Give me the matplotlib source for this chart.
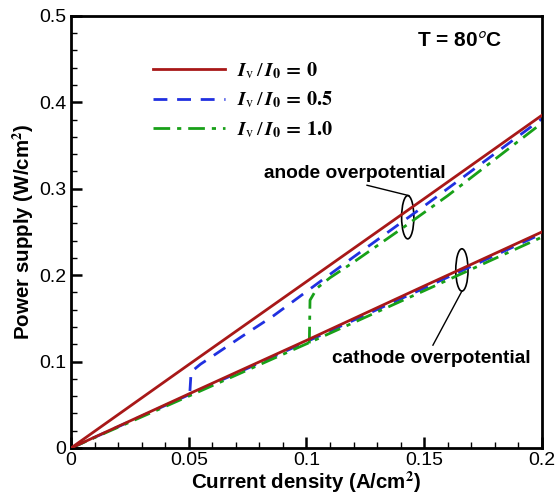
import matplotlib
matplotlib.use('Agg')
import matplotlib.pyplot as plt
from matplotlib.patches import Ellipse
import numpy as np

# Data
# I_v/I_0 = 0 (red)
x_red_an = [0.0, 0.05, 0.1, 0.15, 0.2]
y_red_an = [0.0, 0.0965, 0.1925, 0.2885, 0.385]
x_red_ca = [0.0, 0.05, 0.1, 0.15, 0.2]
y_red_ca = [0.0, 0.0625, 0.1245, 0.1875, 0.250]

# I_v/I_0 = 0.5 (blue)
x_blue_an = [0.0505, 0.051, 0.055, 0.06, 0.072, 0.086, 0.1, 0.12, 0.15, 0.2]
y_blue_an = [0.066, 0.088, 0.097, 0.106, 0.128, 0.153, 0.181, 0.221, 0.280, 0.381]
x_blue_ca = [0.0, 0.05, 0.1, 0.15, 0.2]
y_blue_ca = [0.0, 0.0615, 0.123, 0.185, 0.248]

# I_v/I_0 = 1.0 (green)
x_green_an = [0.1012, 0.1015, 0.1045, 0.11, 0.12, 0.14, 0.16, 0.18, 0.2]
y_green_an = [0.121, 0.171, 0.185, 0.197, 0.215, 0.253, 0.292, 0.334, 0.376]
x_green_ca = [0.0, 0.05, 0.1, 0.15, 0.2]
y_green_ca = [0.0, 0.060, 0.1205, 0.182, 0.244]

legend_labels = [r'$\mathbfit{I}_{\mathrm{v}}\,/\,\mathbfit{I}_{\mathbf{0}}\, \mathbf{=\,0}$',
                 r'$\mathbfit{I}_{\mathrm{v}}\,/\,\mathbfit{I}_{\mathbf{0}}\, \mathbf{=\,0.5}$',
                 r'$\mathbfit{I}_{\mathrm{v}}\,/\,\mathbfit{I}_{\mathbf{0}}\, \mathbf{=\,1.0}$']

plt.rcParams['font.family'] = 'Liberation Sans'
plt.rcParams['mathtext.fontset'] = 'stix'

red = '#a81818'
blue = '#2030e0'
green = '#18a018'

fig = plt.figure(figsize=(5.57, 4.97), dpi=100)
ax = fig.add_axes([0.1275, 0.0986, 0.8455, 0.8695])

l1, = ax.plot(x_red_an, y_red_an, '-', color=red, lw=2, zorder=3)
ax.plot(x_red_ca, y_red_ca, '-', color=red, lw=2, zorder=3)
l2, = ax.plot(x_blue_an, y_blue_an, '--', color=blue, lw=2, dashes=(5, 3.5))
ax.plot(x_blue_ca, y_blue_ca, '--', color=blue, lw=2, dashes=(5, 3.5))
l3, = ax.plot(x_green_an, y_green_an, '-.', color=green, lw=2, dashes=(6, 2.5, 1.5, 2.5))
ax.plot(x_green_ca, y_green_ca, '-.', color=green, lw=2, dashes=(6, 2.5, 1.5, 2.5))

leg = ax.legend([l1, l2, l3], legend_labels, loc='upper left',
                bbox_to_anchor=(0.135, 0.94), frameon=False, fontsize=14.5,
                handlelength=3.6, handletextpad=0.6, labelspacing=0.45)

# Ellipse markers and leader lines
ax.add_patch(Ellipse((0.143, 0.267), 0.0052, 0.05, fill=False, lw=1.2, color='k'))
ax.plot([0.1257, 0.1435], [0.304, 0.292], color='k', lw=1)
ax.text(0.1206, 0.318, 'anode overpotential', ha='center', va='center',
        fontsize=13.8, fontweight='bold')

ax.add_patch(Ellipse((0.166, 0.206), 0.0052, 0.049, fill=False, lw=1.2, color='k'))
ax.plot([0.166, 0.1537], [0.1815, 0.119], color='k', lw=1)
ax.text(0.153, 0.104, 'cathode overpotential', ha='center', va='center',
        fontsize=13.8, fontweight='bold')

ax.text(0.165, 0.47, 'T = 80$^{\\mathsf{o}}$C', ha='center', va='center',
        fontsize=15, fontweight='bold')

ax.set_xlim(0, 0.2)
ax.set_ylim(0, 0.5)
ax.set_xticks([0, 0.05, 0.1, 0.15, 0.2])
ax.set_xticklabels(['0', '0.05', '0.1', '0.15', '0.2'])
ax.set_yticks([0, 0.1, 0.2, 0.3, 0.4, 0.5])
ax.set_yticklabels(['0', '0.1', '0.2', '0.3', '0.4', '0.5'])
ax.set_xticks(np.arange(0, 0.2001, 0.01), minor=True)
ax.set_yticks(np.arange(0, 0.5001, 0.02), minor=True)
ax.tick_params(which='major', direction='in', length=8, width=1.8, labelsize=14)
ax.tick_params(which='minor', direction='in', length=4, width=1)
ax.tick_params(axis='x', pad=3)
for s in ax.spines.values():
    s.set_linewidth(2)

ax.set_xlabel('Current density (A/cm$^{\\mathbf{2}}$)', fontsize=14.8,
              fontweight='bold', labelpad=0)
ax.set_ylabel('Power supply (W/cm$^{\\mathbf{2}}$)', fontsize=14.8,
              fontweight='bold', labelpad=2)

fig.savefig('out.png', dpi=100)
